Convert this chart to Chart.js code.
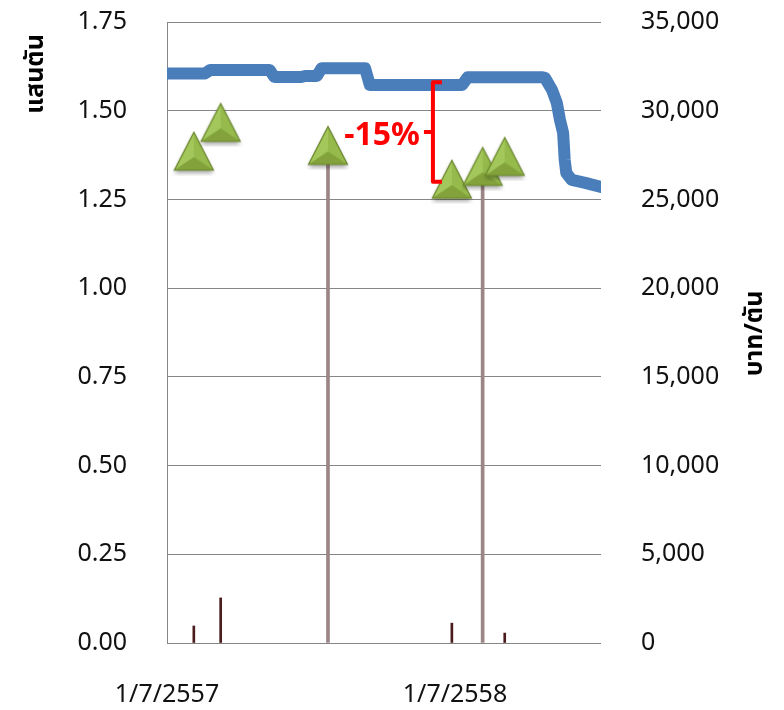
<!DOCTYPE html>
<html>
<head>
<meta charset="utf-8">
<script src="https://cdn.jsdelivr.net/npm/chart.js@4.4.0/dist/chart.umd.min.js"></script>
<style>
  body { margin: 0; background: #fff; }
  #wrap { width: 784px; height: 710px; }
</style>
</head>
<body>
<div id="wrap"><canvas id="price_chart" width="784" height="710"></canvas></div>
<script>
// x values are days counted from 1/7/2557
var xTickDays = [0, 365];
var xTickLabels = ['1/7/2557', '1/7/2558'];

// price line, บาท/ตัน (right axis)
var priceDays   = [0, 48, 55, 130, 136, 170, 175, 190, 196, 251, 257, 374, 381, 476, 479, 488, 494, 498, 502, 504, 506, 513, 530, 550];
var priceValues = [32100, 32100, 32300, 32300, 31900, 31900, 31960, 31960, 32400, 32400, 31450, 31450, 31880, 31880, 31850, 31170, 30440, 29480, 28750, 27230, 26490, 26100, 25930, 25700];

// volume markers, แสนตัน (left axis)
var markerDays   = [34, 68, 204, 361, 400, 428];
var markerValues = [1.386, 1.467, 1.402, 1.307, 1.343, 1.371];

// thin bars and thick bars, แสนตัน (left axis)
var thinBarDays   = [34, 68, 361, 428];
var thinBarValues = [0.048, 0.127, 0.056, 0.028];
var thickBarDays   = [204, 400];
var thickBarValues = [1.37, 1.32];

// -15% bracket: from price level down to volume level
var bracketDay = 337;
var bracketTopPrice = 31600;
var bracketBottomVolume = 1.30;
var bracketText = '-15%';

var leftTitle = 'แสนตัน';
var rightTitle = 'บาท/ตัน';

var tickFont = { family: "'Noto Sans', 'DejaVu Sans', sans-serif", size: 25 };
var gridColor = '#868686';

function toPoints(xs, ys) {
  var pts = [];
  for (var i = 0; i < xs.length; i++) {
    pts.push({ x: xs[i], y: ys[i] });
  }
  return pts;
}

// green pyramid marker like the excel one
function makeTriangle() {
  var c = document.createElement('canvas');
  c.width = 44;
  c.height = 50;
  var g = c.getContext('2d');
  var ax = 22, ay = 6, lx = 2.5, rx = 41.5, by = 44;
  var mx = 22, my = 31;

  // soft shadow
  g.save();
  g.shadowColor = 'rgba(0,0,0,0.35)';
  g.shadowBlur = 4;
  g.shadowOffsetY = 3;
  g.beginPath();
  g.moveTo(ax, ay); g.lineTo(rx, by); g.lineTo(lx, by); g.closePath();
  g.fillStyle = '#8fb246';
  g.fill();
  g.restore();

  function face(x1, y1, x2, y2, col) {
    g.beginPath();
    g.moveTo(x1, y1); g.lineTo(x2, y2); g.lineTo(mx, my); g.closePath();
    g.fillStyle = col;
    g.fill();
  }
  face(ax, ay, lx, by, '#a3c75a');
  face(ax, ay, rx, by, '#96bb4c');
  face(lx, by, rx, by, '#83a23b');

  g.beginPath();
  g.moveTo(ax, ay); g.lineTo(rx, by); g.lineTo(lx, by); g.closePath();
  g.strokeStyle = '#68852b';
  g.lineWidth = 1.2;
  g.stroke();
  return c;
}

var titlesAndBracket = {
  id: 'titlesAndBracket',
  afterDatasetsDraw: function(chart) {
    var ctx = chart.ctx;
    var xs = chart.scales.x, ys = chart.scales.y, ys2 = chart.scales.y2;
    var area = chart.chartArea;

    // bracket
    var bx = xs.getPixelForValue(bracketDay);
    var top = ys2.getPixelForValue(bracketTopPrice);
    var bot = ys.getPixelForValue(bracketBottomVolume);
    var mid = (top + bot) / 2;
    ctx.save();
    ctx.strokeStyle = '#ff0000';
    ctx.lineWidth = 4;
    ctx.lineJoin = 'round';
    ctx.beginPath();
    ctx.moveTo(bx + 9, top);
    ctx.lineTo(bx, top);
    ctx.lineTo(bx, bot);
    ctx.lineTo(bx + 9, bot);
    ctx.stroke();
    ctx.beginPath();
    ctx.moveTo(bx, mid);
    ctx.lineTo(bx - 9, mid);
    ctx.stroke();

    ctx.fillStyle = '#ff0000';
    ctx.font = "bold 32px 'Noto Sans', 'DejaVu Sans', sans-serif";
    ctx.textAlign = 'right';
    ctx.textBaseline = 'middle';
    ctx.fillText(bracketText, bx - 13, mid + 4);

    // axis titles, both read bottom to top
    ctx.fillStyle = '#000';
    ctx.font = "bold 25px 'Noto Sans', 'Noto Sans Thai', 'Loma', 'Garuda', sans-serif";
    ctx.textAlign = 'center';
    ctx.textBaseline = 'middle';

    ctx.save();
    ctx.translate(36, area.top + 52);
    ctx.rotate(-Math.PI / 2);
    ctx.fillText(leftTitle, 0, 0);
    ctx.restore();

    ctx.save();
    ctx.translate(755, (area.top + area.bottom) / 2 + 1);
    ctx.rotate(-Math.PI / 2);
    ctx.fillText(rightTitle, 0, 0);
    ctx.restore();

    ctx.restore();
  }
};

var ctx = document.getElementById('price_chart');
var price_chart = new Chart(ctx, {
  type: 'line',
  data: {
    datasets: [
      {
        type: 'line',
        label: 'markers',
        data: toPoints(markerDays, markerValues),
        yAxisID: 'y',
        showLine: false,
        pointStyle: makeTriangle(),
        pointRadius: 20,
        order: 0
      },
      {
        type: 'line',
        label: 'price',
        data: toPoints(priceDays, priceValues),
        yAxisID: 'y2',
        borderColor: '#4a7ebb',
        borderWidth: 12,
        borderCapStyle: 'round',
        borderJoinStyle: 'round',
        pointRadius: 0,
        tension: 0,
        fill: false,
        order: 1
      },
      {
        type: 'bar',
        label: 'thin',
        data: toPoints(thinBarDays, thinBarValues),
        yAxisID: 'y',
        backgroundColor: '#4a1c1c',
        barThickness: 2,
        grouped: false,
        order: 2
      },
      {
        type: 'bar',
        label: 'thick',
        data: toPoints(thickBarDays, thickBarValues),
        yAxisID: 'y',
        backgroundColor: '#9c8585',
        barThickness: 3,
        grouped: false,
        order: 3
      }
    ]
  },
  options: {
    responsive: false,
    animation: false,
    layout: { padding: { top: 22, left: 0, right: 0, bottom: 0 } },
    plugins: {
      legend: { display: false },
      tooltip: { enabled: false }
    },
    scales: {
      x: {
        type: 'linear',
        min: 0,
        max: 550,
        offset: false,
        grid: { display: false, drawTicks: false },
        border: { display: false },
        afterBuildTicks: function(scale) {
          scale.ticks = xTickDays.map(function(d) { return { value: d }; });
        },
        afterFit: function(scale) { scale.height = 67; },
        ticks: {
          font: tickFont,
          color: '#111',
          padding: 37,
          maxRotation: 0,
          callback: function(value) {
            var i = xTickDays.indexOf(value);
            return i >= 0 ? xTickLabels[i] : '';
          }
        }
      },
      y: {
        position: 'left',
        min: 0,
        max: 1.75,
        // transparent tick marks only push the labels away from the axis
        grid: { color: gridColor, lineWidth: 1, drawTicks: true, tickLength: 40, tickColor: 'rgba(0,0,0,0)' },
        border: { display: true, color: gridColor, width: 1 },
        afterFit: function(scale) { scale.width = 167; },
        ticks: {
          stepSize: 0.25,
          font: tickFont,
          color: '#111',
          padding: 0,
          callback: function(value) { return value.toFixed(2); }
        }
      },
      y2: {
        position: 'right',
        min: 0,
        max: 35000,
        grid: { display: false, drawTicks: true, tickLength: 40 },
        border: { display: false },
        afterFit: function(scale) { scale.width = 183; },
        ticks: {
          stepSize: 5000,
          font: tickFont,
          color: '#111',
          padding: 0,
          callback: function(value) { return value.toLocaleString('en-US'); }
        }
      }
    }
  },
  plugins: [titlesAndBracket]
});
</script>
</body>
</html>
